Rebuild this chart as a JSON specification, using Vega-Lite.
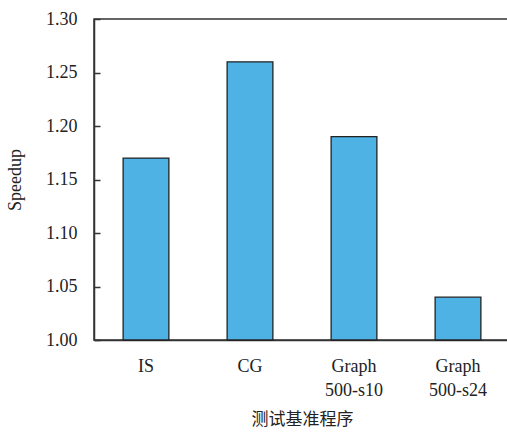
{
  "$schema": "https://vega.github.io/schema/vega-lite/v6.json",
  "autosize": "none",
  "width": 416,
  "height": 321,
  "padding": {"left": 94, "top": 19, "right": 0, "bottom": 92},
  "background": "white",
  "config": {
    "font": "Liberation Serif",
    "view": {"stroke": "#333333", "strokeWidth": 1.5},
    "axis": {"labelFont": "Liberation Serif", "titleFont": "Liberation Serif", "labelFontSize": 18, "titleFontSize": 18, "labelColor": "#222222", "titleColor": "#222222", "titleFontWeight": "normal", "domainColor": "#333333", "domainWidth": 1.5, "tickColor": "#333333", "tickWidth": 1.5, "grid": false, "zindex": 1}
  },
  "data": {
    "values": [
      {"bench": "IS", "speedup": 1.17},
      {"bench": "CG", "speedup": 1.26},
      {"bench": "Graph|500-s10", "speedup": 1.19},
      {"bench": "Graph|500-s24", "speedup": 1.04}
    ]
  },
  "layer": [
    {
      "mark": {"type": "bar", "fill": "#4FB2E5", "stroke": "#222222", "strokeWidth": 1.3},
      "encoding": {
        "x": {
          "field": "bench", "type": "nominal", "sort": null,
          "scale": {"paddingInner": 0.56, "paddingOuter": 0.28},
          "axis": {"title": "测试基准程序", "titleFont": "Noto Sans CJK SC", "titleFontSize": 17, "labelAngle": 0, "labelExpr": "split(datum.label, '|')", "labelLineHeight": 24, "ticks": false, "labelPadding": 17, "titlePadding": 12}
        },
        "y": {
          "field": "speedup", "type": "quantitative",
          "scale": {"domain": [1.0, 1.3], "zero": false, "nice": false},
          "axis": {"title": "Speedup", "values": [1.0, 1.05, 1.1, 1.15, 1.2, 1.25, 1.3], "format": ".2f", "ticks": false, "labelPadding": 17, "titlePadding": 21}
        },
        "y2": {"datum": 1.0}
      }
    },
    {
      "mark": {"type": "bar", "opacity": 0},
      "encoding": {
        "x": {
          "field": "bench", "type": "nominal", "sort": null,
          "axis": {"orient": "top", "offset": -321, "tickSize": 6, "tickWidth": 1.5, "tickColor": "#333333", "labels": false, "domain": false, "title": null}
        },
        "y": {
          "field": "speedup", "type": "quantitative",
          "axis": {"orient": "left", "offset": -6, "tickSize": 6, "tickWidth": 1.5, "tickColor": "#333333", "labels": false, "domain": false, "title": null, "values": [1.0, 1.05, 1.1, 1.15, 1.2, 1.25, 1.3]}
        },
        "y2": {"datum": 1.0}
      }
    }
  ],
  "resolve": {"axis": {"x": "independent", "y": "independent"}}
}
